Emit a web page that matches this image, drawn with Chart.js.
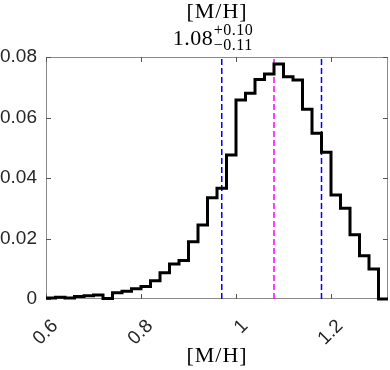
<!DOCTYPE html>
<html><head><meta charset="utf-8">
<script src="https://cdn.jsdelivr.net/npm/chart.js@4"></script>
<style>html,body{margin:0;padding:0;background:#fff}#wrap{width:390px;height:370px;position:relative}</style>
</head><body><div id="wrap"><canvas id="c" width="390" height="370"></canvas></div>
<script>
// ---- data ----
const binEdges = [0.60,0.62,0.64,0.66,0.68,0.70,0.72,0.74,0.76,0.78,0.80,0.82,0.84,0.86,0.88,0.90,0.92,0.94,0.96,0.98,
                  1.00,1.02,1.04,1.06,1.08,1.10,1.12,1.14,1.16,1.18,1.20,1.22,1.24,1.26,1.28,1.30,1.32];
const binValues = [0.0003,0.0006,0.0003,0.0008,0.0011,0.0013,0.0002,0.0021,0.0026,0.0034,0.0041,0.0060,0.0087,0.0116,0.0127,
                   0.0189,0.0245,0.0335,0.0366,0.0476,0.0658,0.0680,0.0726,0.0744,0.0777,0.0735,0.0724,0.0627,0.0548,0.0485,
                   0.0344,0.0300,0.0212,0.0143,0.0099,0.0000];
const xTicks = [0.6, 0.8, 1.0, 1.2];
const yTicks = [0, 0.02, 0.04, 0.06, 0.08];
const ciLow = 0.97, ciMedian = 1.08, ciHigh = 1.18;
const paramName = '[M/H]';
const valueText = '1.08', plusText = '+0.10', minusText = '\u22120.11';

// ---- build datasets from the arrays ----
const histPoints = binValues.map((v, i) => ({x: binEdges[i], y: v}));
histPoints.push({x: binEdges[binEdges.length - 1], y: binValues[binValues.length - 1]});
const vline = (x) => [{x: x, y: yTicks[0]}, {x: x, y: yTicks[yTicks.length - 1]}];

const tickFont = {family: '"Liberation Sans", Arial, sans-serif', size: 19};

const boxPlugin = {
  id: 'box',
  beforeDatasetsDraw(chart) {
    const {ctx, chartArea: a, scales} = chart;
    ctx.save();
    ctx.strokeStyle = '#8a8a8a';
    ctx.lineWidth = 1;
    ctx.strokeRect(a.left + 0.5, a.top + 0.5, a.right - a.left - 1, a.bottom - a.top - 1);
    ctx.strokeStyle = '#555';
    const tl = 5;
    ctx.beginPath();
    scales.x.ticks.forEach(t => {
      const px = Math.round(scales.x.getPixelForValue(t.value)) + 0.5;
      ctx.moveTo(px, a.bottom); ctx.lineTo(px, a.bottom - tl);
      ctx.moveTo(px, a.top); ctx.lineTo(px, a.top + tl);
    });
    scales.y.ticks.forEach(t => {
      const py = Math.round(scales.y.getPixelForValue(t.value)) + 0.5;
      ctx.moveTo(a.left, py); ctx.lineTo(a.left + tl, py);
      ctx.moveTo(a.right, py); ctx.lineTo(a.right - tl, py);
    });
    ctx.stroke();
    ctx.restore();
  },
  afterDraw(chart) {
    const {ctx, chartArea: a} = chart;
    const cx = (a.left + a.right) / 2;
    ctx.save();
    ctx.fillStyle = '#000';
    ctx.textBaseline = 'alphabetic';
    ctx.letterSpacing = '1px';
    ctx.font = '22px "Liberation Serif", serif';
    ctx.textAlign = 'center';
    ctx.fillText(paramName, cx, 18);
    ctx.fillText(paramName, cx, 362);
    ctx.textAlign = 'left';
    ctx.letterSpacing = '0.5px';
    ctx.font = '22px "Liberation Serif", serif';
    const x0 = cx - 44.3;
    ctx.fillText(valueText, x0, 45);
    const w = ctx.measureText(valueText).width;
    ctx.font = '16px "Liberation Serif", serif';
    ctx.fillText(plusText, x0 + w + 0.5, 35);
    ctx.fillText(minusText, x0 + w + 0.5, 49.5);
    ctx.restore();
  }
};

new Chart(document.getElementById('c'), {
  type: 'line',
  data: {
    datasets: [
      {data: histPoints, borderColor: '#000', borderWidth: 3, stepped: 'before', pointRadius: 0, fill: false,
       tension: 0, clip: {left: 0, top: 0, right: 0, bottom: 3}, order: 0},
      {data: vline(ciLow), borderColor: '#0000ff', borderWidth: 1.5, borderDash: [6, 3], pointRadius: 0, order: 1},
      {data: vline(ciMedian), borderColor: '#ff00ff', borderWidth: 1.5, borderDash: [6, 3], pointRadius: 0, order: 1},
      {data: vline(ciHigh), borderColor: '#0000ff', borderWidth: 1.5, borderDash: [6, 3], pointRadius: 0, order: 1}
    ]
  },
  options: {
    responsive: false,
    animation: false,
    events: [],
    layout: {padding: {top: 57, right: 2, left: 0, bottom: 0}},
    plugins: {legend: {display: false}, tooltip: {enabled: false}, title: {display: false}},
    scales: {
      x: {
        type: 'linear', min: binEdges[0], max: binEdges[binEdges.length - 1],
        grid: {display: false, drawTicks: false}, border: {display: false},
        afterBuildTicks: (s) => { s.ticks = xTicks.map(v => ({value: v})); },
        afterFit: (s) => { s.height = 71; },
        ticks: {font: tickFont, color: '#262626', minRotation: 45, maxRotation: 45, padding: 16, labelOffset: 9,
                callback: (v) => String(v)}
      },
      y: {
        type: 'linear', min: yTicks[0], max: yTicks[yTicks.length - 1],
        grid: {display: false, drawTicks: false}, border: {display: false},
        afterBuildTicks: (s) => { s.ticks = yTicks.map(v => ({value: v})); },
        afterFit: (s) => { s.width = 46; },
        ticks: {font: tickFont, color: '#262626', padding: 9,
                callback: (v) => v === 0 ? '0' : v.toFixed(2)}
      }
    }
  },
  plugins: [boxPlugin]
});
</script>
</body></html>
